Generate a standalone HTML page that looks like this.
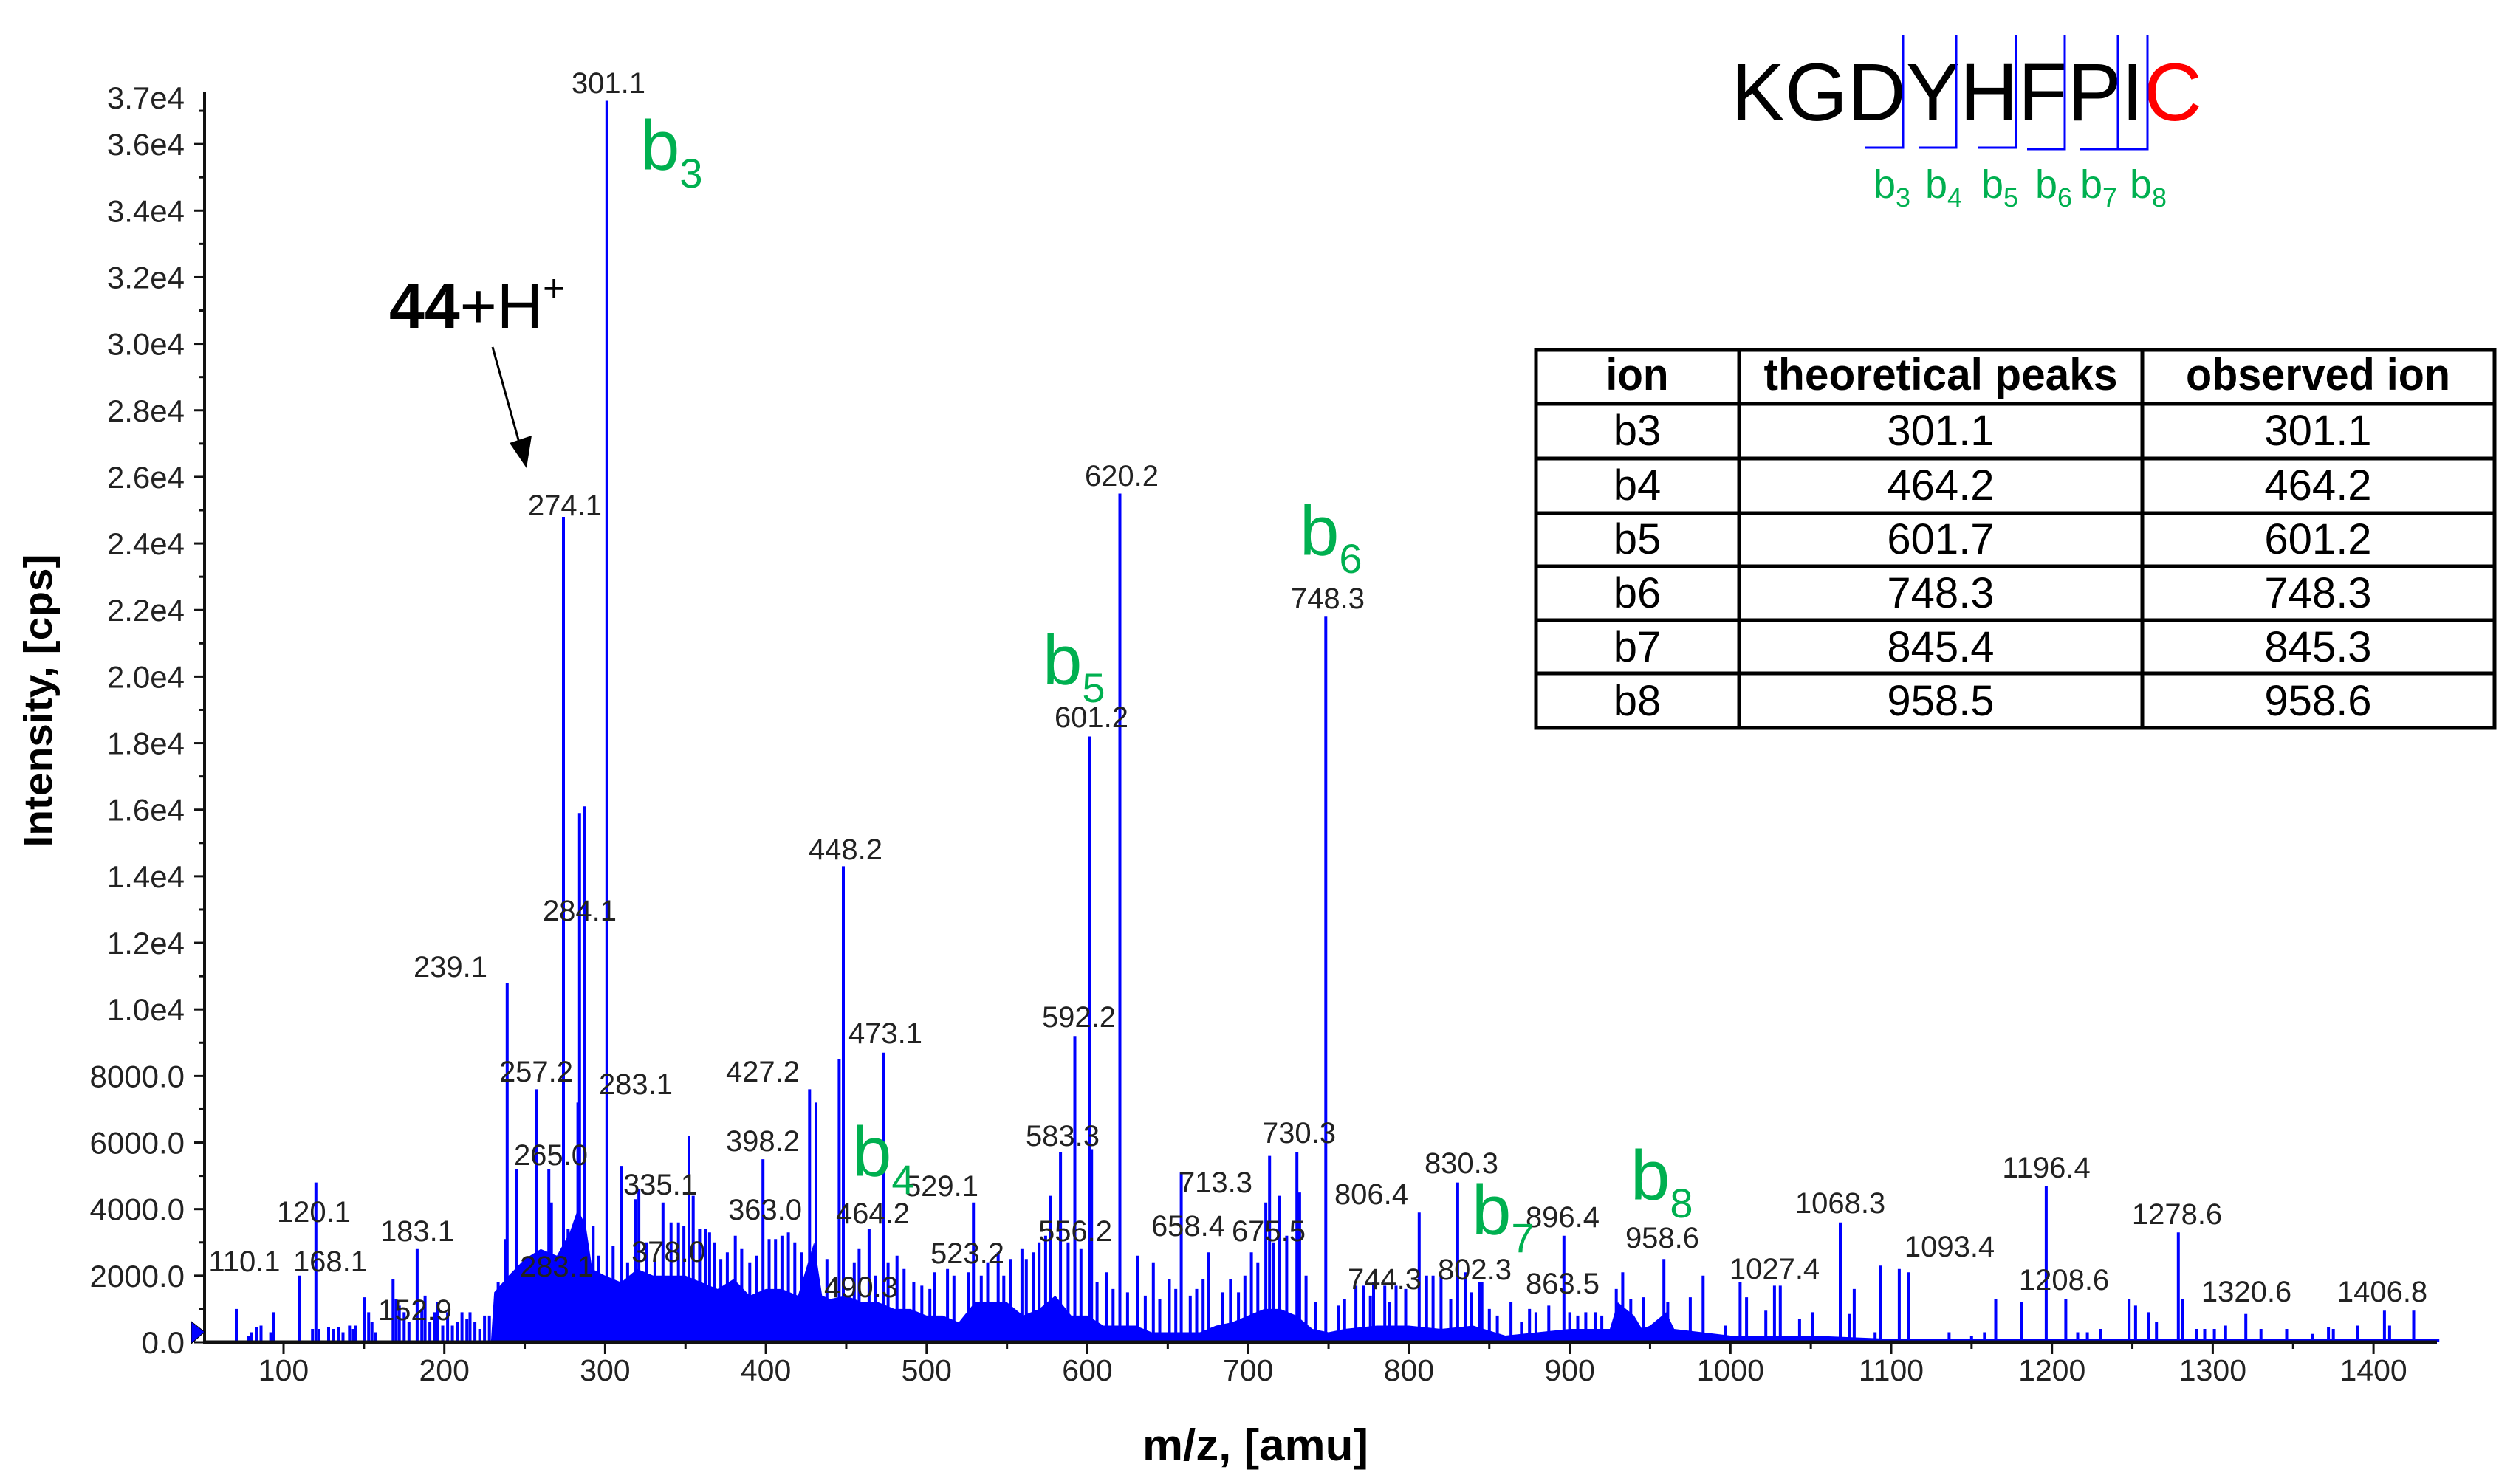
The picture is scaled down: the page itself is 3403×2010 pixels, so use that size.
<!DOCTYPE html>
<html><head><meta charset="utf-8">
<style>
html,body{margin:0;padding:0;background:#fff;}
svg{display:block;}
text{font-family:"Liberation Sans",sans-serif;}
</style></head>
<body>
<svg id="chart" xmlns="http://www.w3.org/2000/svg" width="3403" height="2010" viewBox="0 0 3403 2010">
<rect x="0" y="0" width="3403" height="2010" fill="#fff"/>
<g id="envelope-layer"></g>
<g id="bars"></g>
<g id="axes"></g>
<g id="peak-labels"></g>

<text transform="translate(70,949) rotate(-90)" text-anchor="middle" font-size="54" font-weight="bold" textLength="397" lengthAdjust="spacingAndGlyphs" style='font-family:"Liberation Sans Narrow","Liberation Sans",sans-serif'>Intensity, [cps]</text>
<text x="1547" y="1978" font-size="60" font-weight="bold" textLength="306" lengthAdjust="spacingAndGlyphs" style='font-family:"Liberation Sans Narrow","Liberation Sans",sans-serif'>m/z, [amu]</text>

<text x="527" y="444" font-size="86"><tspan font-weight="bold">44</tspan><tspan>+H</tspan><tspan font-size="52" dy="-36">+</tspan></text>
<line x1="667" y1="470" x2="706" y2="610" stroke="#000" stroke-width="3"/>
<polygon points="713,634 690,600 720,590" fill="#000"/>

<g fill="#00b050">
<text x="867" y="230" font-size="96">b<tspan font-size="56" dy="24">3</tspan></text>
<text x="1154" y="1593" font-size="96">b<tspan font-size="56" dy="24">4</tspan></text>
<text x="1412" y="927" font-size="96">b<tspan font-size="56" dy="24">5</tspan></text>
<text x="1760" y="752" font-size="96">b<tspan font-size="56" dy="24">6</tspan></text>
<text x="1993" y="1672" font-size="96">b<tspan font-size="56" dy="24">7</tspan></text>
<text x="2208" y="1625" font-size="96">b<tspan font-size="56" dy="24">8</tspan></text>
</g>

<g>
<text x="2344" y="163" font-size="110" textLength="638" lengthAdjust="spacingAndGlyphs"><tspan fill="#000">KGDYHFPI</tspan><tspan fill="#ff0000">C</tspan></text>
<g stroke="#0000ff" stroke-width="3" fill="none">
<polyline points="2525,200 2577,200 2577,47"/>
<polyline points="2598,200 2649,200 2649,47"/>
<polyline points="2678,200 2730,200 2730,47"/>
<polyline points="2745,202 2796,202 2796,47"/>
<polyline points="2816,202 2868,202 2868,47"/>
<polyline points="2868,202 2908,202 2908,47"/>
</g>
<g fill="#00b050" font-size="54" style='font-family:"Liberation Sans Narrow","Liberation Sans",sans-serif'>
<text x="2537" y="268">b<tspan font-size="36" dy="12">3</tspan></text>
<text x="2607" y="268">b<tspan font-size="36" dy="12">4</tspan></text>
<text x="2683" y="268">b<tspan font-size="36" dy="12">5</tspan></text>
<text x="2756" y="268">b<tspan font-size="36" dy="12">6</tspan></text>
<text x="2817" y="268">b<tspan font-size="36" dy="12">7</tspan></text>
<text x="2884" y="268">b<tspan font-size="36" dy="12">8</tspan></text>
</g>
</g>

<g id="ion-table" style='font-family:"Liberation Sans Narrow","Liberation Sans",sans-serif'>
<rect x="2080" y="474" width="1298" height="512" fill="none" stroke="#000" stroke-width="5"/>
<g stroke="#000" stroke-width="5">
<line x1="2355" y1="474" x2="2355" y2="986"/>
<line x1="2901" y1="474" x2="2901" y2="986"/>
<line x1="2080" y1="547" x2="3378" y2="547"/>
<line x1="2080" y1="621" x2="3378" y2="621"/>
<line x1="2080" y1="695" x2="3378" y2="695"/>
<line x1="2080" y1="767" x2="3378" y2="767"/>
<line x1="2080" y1="840" x2="3378" y2="840"/>
<line x1="2080" y1="912" x2="3378" y2="912"/>
</g>
<g font-weight="bold" font-size="60" text-anchor="middle">
<text x="2217" y="528" textLength="85" lengthAdjust="spacingAndGlyphs">ion</text>
<text x="2628" y="528" textLength="479" lengthAdjust="spacingAndGlyphs">theoretical peaks</text>
<text x="3139" y="528" textLength="358" lengthAdjust="spacingAndGlyphs">observed ion</text>
</g>
<g id="table-body" font-size="58" text-anchor="middle"></g>
</g>
</svg>
<script>
const peakMz = [
301.1,274.1,287.0,284.1,239.1,257.2,283.1,265.0,245.0,238.0,266.6,277.0,292.6,310.4,318.8,321.0,336.0,341.0,345.6,352.2,354.8,358.8,362.7,381.0,398.2,402.0,406.0,410.0,414.0,427.2,431.2,445.6,448.2,464.2,473.1,481.6,486.0,505.0,513.0,526.0,529.1,544.5,552.0,559.3,566.6,577.0,583.3,592.2,601.2,602.6,612.0,620.2,631.0,641.0,651.0,658.4,675.5,689.0,702.0,711.0,713.3,719.5,730.3,732.0,748.3,767.0,772.0,778.0,785.0,792.0,806.4,811.0,815.0,820.0,830.3,835.0,844.0,845.4,863.5,879.0,887.0,896.4,900.0,916.0,920.0,929.0,933.0,938.0,946.0,958.6,961.0,975.0,983.0,997.0,1006.0,1010.0,1022.0,1027.4,1031.0,1043.0,1051.0,1068.3,1074.0,1077.0,1090.0,1093.4,1105.0,1111.0,1136.0,1150.0,1158.0,1165.0,1181.0,1196.4,1208.6,1216.0,1222.0,1230.0,1248.0,1252.0,1260.0,1265.0,1278.6,1281.0,1290.0,1295.0,1301.0,1308.0,1320.6,1330.0,1346.0,1362.0,1372.0,1375.0,1390.0,1406.8,1410.0,1425.0,1440.0,
70.6,78,80,83,86,92,93.8,110.1,118,120.1,122,128,131,134,137,141,143,145,150.5,152.9,155,157,168.1,170,172,175,178,183.1,186,188,191,194,196,199,202,205,208,211,214,216,219,222,225,228,233.5,
296,305,314,326,331,349,365,368,372,376,385,390,394,418,422,438,455,458,468,476,492,497,502,517,534,538,548,562,570,574,588,596,606,616,625,636,645,655,664,668,672,684,694,698,706,716,724,736,742,756,760,776,788,798,826,839,850,855,870,875,905,910
];
const peakIntensity = [
37300,24800,16100,15900,10800,7600,7200,5200,5200,3100,4200,3400,3500,5300,4300,4600,4200,3600,3600,6200,4400,3400,3400,3200,5500,3100,3100,3200,3300,7600,7200,8500,14300,3400,8700,2600,2200,2100,2200,2100,4200,2700,2500,2800,2700,4400,5700,9200,18200,5800,2100,25500,2600,2400,1900,5100,2700,1900,2700,4200,5600,4400,5700,4500,21800,1700,1700,1800,1700,1700,3900,2000,2000,2000,4800,2100,1800,1800,1200,900,1100,3200,900,900,800,1600,2100,1300,1350,2500,1200,1350,2000,500,1800,1350,950,1700,1700,700,900,3600,850,1600,300,2300,2200,2100,300,200,300,1300,1200,4700,1300,300,300,400,1300,1100,900,600,3300,1300,400,400,400,500,850,400,400,250,450,400,500,950,500,950,100,
1000,200,300,450,500,300,900,2000,400,4800,400,450,400,450,300,500,400,500,1350,900,600,300,1900,1300,1100,900,600,2800,1000,1400,600,900,1200,500,900,500,600,900,700,900,600,400,800,800,1800,
2600,2900,2400,3000,2600,3500,3300,3000,2500,2700,2800,2400,2600,3000,2700,2500,2400,2800,2000,2400,1800,1700,1600,2000,2000,2400,2000,2500,3000,3200,3000,2800,1800,1600,1500,1400,1300,1600,1400,1600,1900,1500,1500,2000,2400,3000,3200,2000,1200,1100,1300,1400,1200,1600,1300,1500,1000,800,600,1000,800,900
];
const envMz = [229,231,240,250,260,270,278,283,288,292,300,310,320,330,340,350,360,370,380,390,400,410,420,430,435,440,450,460,470,480,490,500,510,520,530,540,550,560,570,580,590,600,610,620,630,640,650,660,670,680,690,700,710,720,730,740,750,760,780,800,820,840,860,880,900,925,930,940,945,950,960,965,1000,1050,1100,1200,1300,1440];
const envIntensity = [0,1500,2000,2500,2800,2600,3300,4000,3500,2200,2000,1800,2200,2000,2000,2000,1800,1600,1900,1400,1600,1600,1400,3000,1400,1300,1400,1200,1200,1000,1000,800,800,600,1200,1200,1200,800,1000,1400,800,800,500,500,500,300,300,300,300,500,600,800,1000,1000,800,400,300,400,500,500,400,500,200,300,400,400,1200,800,400,500,900,400,200,200,100,100,100,100];
const yTickValues = [0,2000,4000,6000,8000,10000,12000,14000,16000,18000,20000,22000,24000,26000,28000,30000,32000,34000,36000];
const yTickLabels = ["0.0","2000.0","4000.0","6000.0","8000.0","1.0e4","1.2e4","1.4e4","1.6e4","1.8e4","2.0e4","2.2e4","2.4e4","2.6e4","2.8e4","3.0e4","3.2e4","3.4e4","3.6e4"];
const yAxisTopValue = 37400;
const yAxisTopLabel = "3.7e4";
const xTickValues = [100,200,300,400,500,600,700,800,900,1000,1100,1200,1300,1400];
const labelTexts = ["301.1","274.1","284.1","239.1","257.2","283.1","265.0","120.1","183.1","110.1","168.1","152.9","283.1","335.1","398.2","363.0","378.0","427.2","448.2","473.1","464.2","490.3","529.1","523.2","556.2","583.3","592.2","601.2","620.2","658.4","675.5","713.3","730.3","748.3","744.3","802.3","806.4","830.3","863.5","896.4","958.6","1027.4","1068.3","1093.4","1196.4","1208.6","1278.6","1320.6","1406.8"];
const labelLayoutX = [824,765,785,610,726,861,746,425,565,331,447,562,754,894,1033,1036,905,1033,1145,1199,1182,1166,1275,1310,1456,1439,1461,1478,1519,1609,1718,1646,1759,1798,1875,1997,1857,1979,2116,2116,2251,2403,2492,2640,2771,2795,2948,3042,3226];
const labelLayoutY = [126,698,1247,1323,1465,1482,1578,1655,1681,1722,1722,1788,1729,1618,1559,1652,1709,1465,1164,1413,1657,1757,1620,1711,1681,1552,1391,985,658,1674,1681,1615,1548,824,1746,1733,1631,1589,1752,1662,1690,1732,1643,1702,1595,1747,1658,1763,1763];
const tableIons = ["b3","b4","b5","b6","b7","b8"];
const tableTheoretical = ["301.1","464.2","601.7","748.3","845.4","958.5"];
const tableObserved = ["301.1","464.2","601.2","748.3","845.3","958.6"];

const NS = "http://www.w3.org/2000/svg";
const X0 = 384, PX_PER_MZ = 2.177, Y0 = 1818, PX_PER_COUNT = 0.04508;
function xScale(m){ return X0 + (m-100)*PX_PER_MZ; }
function yScale(v){ return Y0 - v*PX_PER_COUNT; }
function mk(tag, attrs, parent){ const e=document.createElementNS(NS,tag); for(const k in attrs) e.setAttribute(k,attrs[k]); parent.appendChild(e); return e; }

const envG = document.getElementById('envelope-layer');
let pts = envMz.map((m,i)=>xScale(m).toFixed(1)+','+yScale(envIntensity[i]).toFixed(1));
pts.unshift(xScale(envMz[0]).toFixed(1)+','+Y0);
pts.push(xScale(envMz[envMz.length-1]).toFixed(1)+','+Y0);
const env = mk('polygon',{points:pts.join(' '),fill:'#0000ff'},envG);



const barsG = document.getElementById('bars');
peakMz.forEach((m,i)=>{
  const l = mk('line',{x1:xScale(m).toFixed(1),x2:xScale(m).toFixed(1),y1:Y0,y2:yScale(peakIntensity[i]).toFixed(1),stroke:'#0000ff','stroke-width':4},barsG);
  
  
});

const ax = document.getElementById('axes');
const yAxis = mk('line',{x1:277,y1:Y0+2,x2:277,y2:yScale(yAxisTopValue)-8,stroke:'#111','stroke-width':4},ax);


const xAxis = mk('line',{x1:275,y1:Y0,x2:3300,y2:Y0,stroke:'#111','stroke-width':5},ax);


for(let v=0; v<=37000; v+=1000){
  const major = (v%2000===0);
  mk('line',{x1:277-(major?14:8),x2:277,y1:yScale(v),y2:yScale(v),stroke:'#111','stroke-width':3},ax);
}
yTickValues.forEach((v,i)=>{
  const t = mk('text',{x:250,y:(yScale(v)+15).toFixed(1),'text-anchor':'end','font-size':42,fill:'#222'},ax);
  t.textContent = yTickLabels[i];
  
  
});
const topT = mk('text',{x:250,y:(yScale(yAxisTopValue)+15).toFixed(1),'text-anchor':'end','font-size':42,fill:'#222'},ax);
topT.textContent = yAxisTopLabel;


for(let m=100; m<=1400; m+=50){
  mk('line',{x1:xScale(m),x2:xScale(m),y1:Y0,y2:Y0+(m%100===0?16:9),stroke:'#111','stroke-width':3},ax);
}
xTickValues.forEach(m=>{
  const t = mk('text',{x:xScale(m).toFixed(1),y:1870,'text-anchor':'middle','font-size':41,fill:'#222'},ax);
  t.textContent = String(m);
  
  
});
const tri = mk('polygon',{points:'259,1790 277,1804 259,1820',fill:'#0000ff',stroke:'#000','stroke-width':1},ax);



const lg = document.getElementById('peak-labels');
labelTexts.forEach((s,i)=>{
  const t = mk('text',{x:labelLayoutX[i],y:labelLayoutY[i],'text-anchor':'middle','font-size':40,fill:'#222'},lg);
  t.textContent = s;
  
  
});

const tb = document.getElementById('table-body');
const rowBase = [603,677,750,823,896,969];
tableIons.forEach((s,i)=>{
  const a = mk('text',{x:2217,y:rowBase[i]},tb); a.textContent=s;
  
  
  const b = mk('text',{x:2628,y:rowBase[i]},tb); b.textContent=tableTheoretical[i];
  
  
  const c = mk('text',{x:3139,y:rowBase[i]},tb); c.textContent=tableObserved[i];
  
  
});
</script>
</body></html>
